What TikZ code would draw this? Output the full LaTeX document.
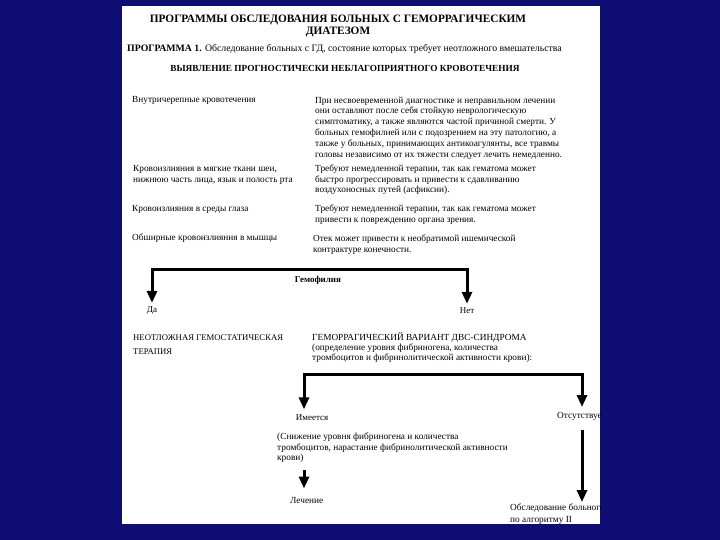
\documentclass[tikz,border=0pt]{standalone}
\usepackage{fontspec}
\setmainfont{Liberation Serif}
\usetikzlibrary{arrows.meta,positioning,calc}
\definecolor{slideblue}{HTML}{0E0E72}
\definecolor{paper}{HTML}{FFFFFF}
\tikzset{
  titletxt/.style={font=\fontsize{11.3}{12}\selectfont\bfseries, align=center, inner sep=0pt},
  headtxt/.style={font=\fontsize{9.8}{11}\selectfont, inner sep=0pt},
  bodytxt/.style={font=\fontsize{9.3}{10.8}\selectfont, align=left, inner sep=0pt, anchor=north west},
  labeltxt/.style={font=\fontsize{9}{11}\selectfont, inner sep=0pt},
  bigarr/.style={-{Triangle[width=10pt,length=12pt]}, line width=3pt},
}

\begin{document}
\begin{tikzpicture}[x=1pt,y=-1pt]
  \useasboundingbox (0,0) rectangle (720,540);
  \fill[slideblue] (0,0) rectangle (720,540);
  \fill[paper] (122,6) rectangle (600,524);
  \begin{scope}
    \clip (122,6) rectangle (600,524);
    \node[titletxt] (title) at (338,25.5) {ПРОГРАММЫ ОБСЛЕДОВАНИЯ БОЛЬНЫХ С ГЕМОРРАГИЧЕСКИМ\\ДИАТЕЗОМ};
    \node[headtxt, anchor=west] (prog) at (127,49.5) {\textbf{ПРОГРАММА 1.} Обследование больных с ГД, состояние которых требует неотложного вмешательства};
    \node[headtxt, font=\fontsize{9.3}{11}\selectfont\bfseries] (detect) at (345,68.5) {ВЫЯВЛЕНИЕ ПРОГНОСТИЧЕСКИ НЕБЛАГОПРИЯТНОГО КРОВОТЕЧЕНИЯ};

    \node[bodytxt] (intracran) at (132,96.5) {Внутричерепные кровотечения};
    \node[bodytxt] (softtis) at (133,165.5) {Кровоизлияния в мягкие ткани шеи,\\нижнюю часть лица, язык и полость рта};
    \node[bodytxt] (eye) at (132,205.5) {Кровоизлияния в среды глаза};
    \node[bodytxt] (muscle) at (132,233.5) {Обширные кровоизлияния в мышцы};

    \node[bodytxt] (note1) at (315,96.5) {При несвоевременной диагностике и неправильном лечении\\они оставляют после себя стойкую неврологическую\\симптоматику, а также являются частой причиной смерти. У\\больных гемофилией или с подозрением на эту патологию, а\\также у больных, принимающих антикоагулянты, все травмы\\головы независимо от их тяжести следует лечить немедленно.};
    \node[bodytxt] (note2) at (315,164.5) {Требуют немедленной терапии, так как гематома может\\быстро прогрессировать и привести к сдавливанию\\воздухоносных путей (асфиксии).};
    \node[bodytxt] (note3) at (315,204.5) {Требуют немедленной терапии, так как гематома может\\привести к повреждению органа зрения.};
    \node[bodytxt] (note4) at (313,234.5) {Отек может привести к необратимой ишемической\\контрактуре конечности.};

    \node[labeltxt, font=\fontsize{9}{11}\selectfont\bfseries] (hemo) at (318,280) {Гемофилия};
    \node[labeltxt] (yes) at (152,311) {Да};
    \node[labeltxt] (no) at (467,311) {Нет};
    \coordinate (f1l) at (152,269);
    \coordinate (f1r) at (467,269);
    \draw[bigarr] (f1r) -- (f1l) -- ([yshift=4pt]f1l |- yes.north);
    \draw[bigarr] (f1l) -- (f1r) -- ([yshift=4pt]f1r |- no.north);

    \node[bodytxt, font=\fontsize{8.7}{13.5}\selectfont] (urgent) at (133,335) {НЕОТЛОЖНАЯ ГЕМОСТАТИЧЕСКАЯ\\ТЕРАПИЯ};
    \node[bodytxt, font=\fontsize{9.3}{10}\selectfont] (dic) at (312,332) {ГЕМОРРАГИЧЕСКИЙ ВАРИАНТ ДВС-СИНДРОМА\\(определение уровня фибриногена, количества\\тромбоцитов и фибринолитической активности крови):};

    \node[labeltxt] (has) at (312,417.5) {Имеется};
    \node[bodytxt] (absent) at (557,412) {Отсутствует};
    \coordinate (f2l) at (304,374);
    \coordinate (f2r) at (582,374);
    \draw[bigarr] (f2r) -- (f2l) -- ([yshift=5pt]f2l |- has.north);
    \draw[bigarr] (f2l) -- (f2r) -- ([yshift=5pt]f2r |- absent.north);

    \node[bodytxt] (lowered) at (277,432.5) {(Снижение уровня фибриногена и количества\\тромбоцитов, нарастание фибринолитической активности\\крови)};
    \node[bodytxt] (treat) at (290,497.5) {Лечение};
    \node[bodytxt, font=\fontsize{9.3}{11.5}\selectfont] (algo) at (510,504) {Обследование больного\\по алгоритму II};
    \draw[bigarr, shorten <=7pt, shorten >=9pt] (lowered.south -| f2l) -- (treat.north -| f2l);
    \draw[bigarr, shorten <=9pt, shorten >=2pt] (absent.south -| f2r) -- (algo.north -| f2r);
  \end{scope}
\end{tikzpicture}
\end{document}
